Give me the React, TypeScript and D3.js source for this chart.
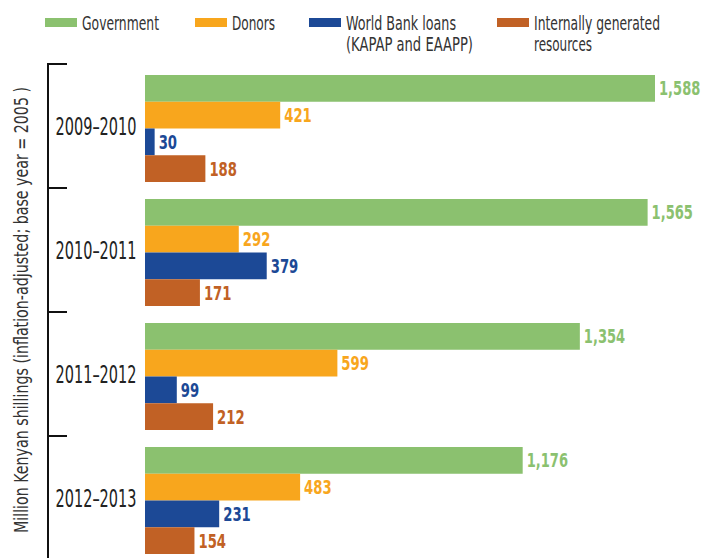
import React from "react";
import * as d3 from "d3";

const years = ["2009–2010", "2010–2011", "2011–2012", "2012–2013"];
const seriesNames = ["Government", "Donors", "World Bank loans", "Internally generated"];
const government = [1588, 1565, 1354, 1176];
const donors = [421, 292, 599, 483];
const worldBank = [30, 379, 99, 231];
const internal = [188, 171, 212, 154];
const colors = ["#8bc16f", "#f8a61d", "#1c4996", "#c16125"];
const legendLabels = [["Government"], ["Donors"], ["World Bank loans", "(KAPAP and EAAPP)"], ["Internally generated", "resources"]];
const legendWidths = [[77], [43], [110, 127], [126, 58]];
const yTitle = "Million Kenyan shillings (inflation-adjusted; base year = 2005 )";

const FONT = "'Liberation Sans Narrow', 'DejaVu Sans Condensed', 'Noto Sans', sans-serif";

function labelWidth(s: string) {
  let w = 0;
  for (const c of s) w += c === "," ? 4.5 : 9.2;
  return w;
}

export default function App() {
  const W = 702, H = 558;
  const series = [government, donors, worldBank, internal];
  const x = d3.scaleLinear().domain([0, 1588]).range([145, 655]);
  const yGroup = d3.scaleBand<string>().domain(years).range([64, 64 + 124 * 4]).padding(0);
  const yInner = d3.scaleBand<string>().domain(seriesNames).range([11, 118]).padding(0);
  const fmt = d3.format(",");
  const legendX = [45, 195, 309, 497];

  return (
    <svg width={W} height={H} style={{ position: "absolute", left: 0, top: 0, background: "#fff" }} fontFamily={FONT}>
      {legendLabels.map((lines, i) => (
        <g key={i}>
          <rect x={legendX[i]} y={18} width={32} height={9} fill={colors[i]} />
          {lines.map((t, j) => (
            <text key={j} x={legendX[i] + 37} y={30 + j * 21} fontSize={20} fill="#333"
              textLength={legendWidths[i][j]} lengthAdjust="spacingAndGlyphs">{t}</text>
          ))}
        </g>
      ))}
      <text transform={`translate(28,310) rotate(-90)`} textAnchor="middle" fontSize={19} fill="#333"
        textLength={446} lengthAdjust="spacingAndGlyphs">{yTitle}</text>
      <line x1={48} x2={48} y1={63} y2={H} stroke="#111" strokeWidth={2} />
      {years.map((yr) => (
        <line key={yr} x1={47} x2={67} y1={yGroup(yr)!} y2={yGroup(yr)!} stroke="#111" strokeWidth={2} />
      ))}
      {years.map((yr, gi) => {
        const g0 = yGroup(yr)!;
        return (
          <g key={yr}>
            <text x={96} y={g0 + 63} textAnchor="middle" dominantBaseline="central" fontSize={24} fill="#222"
              textLength={81} lengthAdjust="spacingAndGlyphs">{yr}</text>
            {series.map((vals, si) => {
              const y0 = g0 + yInner(seriesNames[si])!;
              const h = yInner.bandwidth();
              const s = fmt(vals[gi]);
              return (
                <g key={si}>
                  <rect x={x(0)} y={y0} width={x(vals[gi]) - x(0)} height={h} fill={colors[si]} />
                  <text x={x(vals[gi]) + 4} y={y0 + h / 2} dominantBaseline="central" fontSize={19}
                    fontWeight="bold" fill={colors[si]} textLength={labelWidth(s)}
                    lengthAdjust="spacingAndGlyphs">{s}</text>
                </g>
              );
            })}
          </g>
        );
      })}
    </svg>
  );
}
